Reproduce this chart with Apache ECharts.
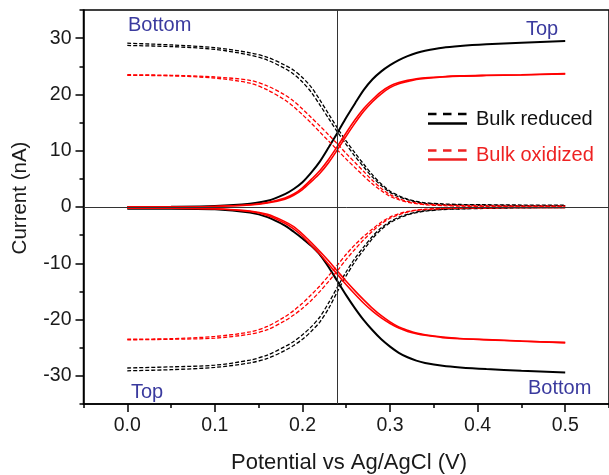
<!DOCTYPE html>
<html>
<head>
<meta charset="utf-8">
<script src="https://cdn.jsdelivr.net/npm/echarts@6/dist/echarts.min.js"></script>
<style>
  html, body { margin: 0; padding: 0; background: #fff; }
  #chart { width: 609px; height: 475px; }
</style>
</head>
<body>
<div id="chart"></div>
<script>
// Electrode potential (V vs Ag/AgCl) shared by every trace
const potential = [0, 0.05, 0.1, 0.14, 0.16, 0.18, 0.19, 0.2, 0.21, 0.22, 0.23, 0.24,
  0.25, 0.26, 0.27, 0.28, 0.29, 0.30, 0.31, 0.32, 0.33, 0.34, 0.36, 0.38, 0.41, 0.45, 0.50];

// Bulk reduced (black) currents, nA
const reducedTopUp = [0.0, 0.05, 0.2, 0.6, 1.1, 2.3, 3.2, 4.4, 6.1, 8.1, 10.6, 13.2,
  15.9, 18.4, 20.8, 22.7, 24.1, 25.2, 26.1, 26.8, 27.35, 27.75, 28.3, 28.6, 28.9, 29.2, 29.5];
const reducedBottomUpA = [29.1, 28.8, 28.3, 27.4, 26.6, 25.2, 24.3, 23.0, 21.3, 19.0, 16.5, 14.0,
  11.7, 9.6, 7.6, 5.7, 4.1, 2.8, 2.0, 1.4, 1.0, 0.75, 0.55, 0.45, 0.4, 0.35, 0.35];
const reducedBottomUpB = [28.7, 28.5, 28.0, 27.0, 26.1, 24.6, 23.6, 22.2, 20.4, 18.1, 15.7, 13.3,
  11.1, 9.0, 7.1, 5.3, 3.8, 2.6, 1.8, 1.3, 0.9, 0.65, 0.45, 0.35, 0.3, 0.25, 0.25];
const reducedBottomDown = [-0.3, -0.3, -0.4, -1.0, -1.8, -3.3, -4.4, -5.6, -6.9, -8.5, -10.7, -13.2,
  -15.7, -18.0, -20.1, -21.9, -23.5, -24.8, -25.9, -26.7, -27.3, -27.7, -28.2, -28.5, -28.8, -29.1, -29.4];
const reducedTopDownA = [-28.6, -28.4, -28.1, -27.2, -26.3, -24.8, -23.9, -22.7, -21.3, -19.5, -17.0, -14.2,
  -11.5, -9.1, -7.1, -5.2, -3.7, -2.6, -1.8, -1.3, -0.9, -0.65, -0.4, -0.3, -0.2, -0.1, -0.1];
const reducedTopDownB = [-29.1, -28.9, -28.5, -27.7, -26.9, -25.5, -24.6, -23.5, -22.1, -20.4, -18.0, -15.0,
  -12.2, -9.7, -7.6, -5.6, -4.0, -2.8, -2.0, -1.4, -1.0, -0.75, -0.45, -0.35, -0.25, -0.15, -0.1];

// Bulk oxidized (red) currents, nA
const oxidizedTopUpA = [0.0, 0.0, 0.1, 0.4, 0.8, 1.6, 2.3, 3.4, 4.9, 6.5, 8.5, 10.8,
  13.2, 15.5, 17.5, 19.1, 20.5, 21.5, 22.1, 22.5, 22.8, 22.95, 23.15, 23.3, 23.4, 23.5, 23.7];
const oxidizedTopUpB = [0.0, 0.0, 0.1, 0.35, 0.7, 1.4, 2.1, 3.1, 4.5, 6.0, 7.9, 10.2,
  12.6, 14.9, 17.0, 18.7, 20.1, 21.2, 21.9, 22.3, 22.65, 22.85, 23.1, 23.25, 23.35, 23.45, 23.65];
const oxidizedBottomUpA = [23.5, 23.4, 23.1, 22.5, 21.5, 19.9, 18.8, 17.4, 15.9, 14.4, 12.8, 11.2,
  9.5, 7.9, 6.3, 4.7, 3.3, 2.2, 1.5, 1.0, 0.7, 0.5, 0.35, 0.25, 0.2, 0.15, 0.15];
const oxidizedBottomUpB = [23.4, 23.3, 22.9, 22.0, 20.8, 19.0, 17.8, 16.4, 14.9, 13.3, 11.7, 10.1,
  8.5, 7.0, 5.5, 4.1, 2.9, 1.9, 1.3, 0.85, 0.6, 0.4, 0.25, 0.15, 0.1, 0.1, 0.1];
const oxidizedBottomDownA = [-0.2, -0.2, -0.3, -0.7, -1.3, -2.6, -3.5, -4.8, -6.3, -7.9, -9.6, -11.4,
  -13.2, -14.9, -16.5, -18.0, -19.3, -20.4, -21.3, -21.9, -22.4, -22.7, -23.1, -23.35, -23.55, -23.8, -24.1];
const oxidizedBottomDownB = [-0.2, -0.2, -0.3, -0.8, -1.5, -2.9, -3.9, -5.2, -6.8, -8.4, -10.2, -12.0,
  -13.8, -15.5, -17.1, -18.5, -19.7, -20.7, -21.5, -22.1, -22.5, -22.8, -23.2, -23.4, -23.6, -23.85, -24.1];
const oxidizedTopDownA = [-23.6, -23.5, -23.3, -22.6, -21.8, -20.2, -19.2, -18.0, -16.6, -15.0, -13.2, -11.3,
  -9.3, -7.5, -5.8, -4.3, -3.0, -2.0, -1.4, -0.9, -0.6, -0.45, -0.3, -0.22, -0.18, -0.1, -0.1];
const oxidizedTopDownB = [-23.5, -23.4, -23.0, -22.2, -21.2, -19.5, -18.4, -17.1, -15.6, -14.0, -12.2, -10.3,
  -8.4, -6.7, -5.2, -3.9, -2.7, -1.8, -1.2, -0.8, -0.55, -0.4, -0.25, -0.18, -0.15, -0.1, -0.1];

// Axis ticks and reference lines
const xMajorTicks = [0, 0.1, 0.2, 0.3, 0.4, 0.5];
const yMajorTicks = [-30, -20, -10, 0, 10, 20, 30];
const crossingPotential = 0.24;

const FONT = '"Liberation Sans", Arial, Helvetica, sans-serif';
const BLACK = '#000000';
const RED = '#ff0000';
const NAVY = '#3a3a9e';

function pairs(values) {
  return potential.map((v, i) => [v, values[i]]);
}

function curve(name, values, color, dashed) {
  return {
    name: name,
    type: 'line',
    data: pairs(values),
    smooth: 0.3,
    showSymbol: false,
    silent: true,
    lineStyle: dashed
      ? { color: color, width: 1.3, type: [4, 2] }
      : { color: color, width: color === RED ? 1.6 : 2 },
    z: color === RED ? 3 : 2
  };
}

const series = [
  curve('reduced top up', reducedTopUp, BLACK, false),
  curve('reduced bottom up A', reducedBottomUpA, BLACK, true),
  curve('reduced bottom up B', reducedBottomUpB, BLACK, true),
  curve('reduced bottom down', reducedBottomDown, BLACK, false),
  curve('reduced top down A', reducedTopDownA, BLACK, true),
  curve('reduced top down B', reducedTopDownB, BLACK, true),
  curve('oxidized top up A', oxidizedTopUpA, RED, false),
  curve('oxidized top up B', oxidizedTopUpB, RED, false),
  curve('oxidized bottom up A', oxidizedBottomUpA, RED, true),
  curve('oxidized bottom up B', oxidizedBottomUpB, RED, true),
  curve('oxidized bottom down A', oxidizedBottomDownA, RED, false),
  curve('oxidized bottom down B', oxidizedBottomDownB, RED, false),
  curve('oxidized top down A', oxidizedTopDownA, RED, true),
  curve('oxidized top down B', oxidizedTopDownB, RED, true)
];

// zero-current and crossing-potential guide lines
series[0].markLine = {
  silent: true,
  symbol: 'none',
  label: { show: false },
  lineStyle: { color: '#333333', width: 1, type: 'solid' },
  data: [{ xAxis: crossingPotential }, { yAxis: 0 }]
};

const tickLabel = { fontFamily: FONT, fontSize: 19.5, color: '#1a1a1a' };

const option = {
  animation: false,
  backgroundColor: '#ffffff',
  grid: {
    left: 83.5, top: 10, right: -6, bottom: 71,
    show: true, borderColor: '#000', borderWidth: 1.5, backgroundColor: 'transparent'
  },
  xAxis: [
    {
      type: 'value', min: -0.05, max: 0.55, interval: 0.05,
      position: 'bottom',
      axisLine: { show: true, onZero: false, lineStyle: { color: '#000', width: 1.5 } },
      axisTick: { show: true, length: 8, customValues: xMajorTicks, lineStyle: { color: '#000', width: 1.5 } },
      axisLabel: Object.assign({ margin: 12, customValues: xMajorTicks, formatter: v => v.toFixed(1) }, tickLabel),
      splitLine: { show: false }
    },
    {
      type: 'value', min: -0.05, max: 0.55, interval: 0.05,
      position: 'bottom', offset: 0,
      axisLine: { show: false, onZero: false },
      axisTick: { show: true, length: 4, lineStyle: { color: '#000', width: 1.5 } },
      axisLabel: { show: false },
      splitLine: { show: false }
    }
  ],
  yAxis: [
    {
      type: 'value', min: -35, max: 35, interval: 5,
      position: 'left',
      axisLine: { show: true, onZero: false, lineStyle: { color: '#000', width: 1.5 } },
      axisTick: { show: true, length: 8, customValues: yMajorTicks, lineStyle: { color: '#000', width: 1.5 } },
      axisLabel: Object.assign({ margin: 12, customValues: yMajorTicks, formatter: v => String(v) }, tickLabel),
      splitLine: { show: false }
    },
    {
      type: 'value', min: -35, max: 35, interval: 5,
      position: 'left', offset: 0,
      axisLine: { show: false, onZero: false },
      axisTick: { show: true, length: 4, lineStyle: { color: '#000', width: 1.5 } },
      axisLabel: { show: false },
      splitLine: { show: false }
    }
  ],
  series: series,
  graphic: [
    // axis titles
    {
      type: 'text', x: 349, y: 463,
      style: { text: 'Potential vs Ag/AgCl (V)', fontFamily: FONT, fontSize: 22, fill: '#1a1a1a', align: 'center', verticalAlign: 'middle' }
    },
    {
      type: 'text', x: 20, y: 198, rotation: Math.PI / 2,
      style: { text: 'Current (nA)', fontFamily: FONT, fontSize: 20.5, fill: '#1a1a1a', align: 'center', verticalAlign: 'middle' }
    },
    // electrode annotations
    { type: 'text', x: 128, y: 25, style: { text: 'Bottom', fontFamily: FONT, fontSize: 20, fill: NAVY, align: 'left', verticalAlign: 'middle' } },
    { type: 'text', x: 526, y: 29, style: { text: 'Top', fontFamily: FONT, fontSize: 20, fill: NAVY, align: 'left', verticalAlign: 'middle' } },
    { type: 'text', x: 131, y: 392, style: { text: 'Top', fontFamily: FONT, fontSize: 20, fill: NAVY, align: 'left', verticalAlign: 'middle' } },
    { type: 'text', x: 528, y: 388, style: { text: 'Bottom', fontFamily: FONT, fontSize: 20, fill: NAVY, align: 'left', verticalAlign: 'middle' } },
    // legend keys: dashed over solid
    { type: 'line', shape: { x1: 428, y1: 114, x2: 467, y2: 114 }, style: { stroke: BLACK, lineWidth: 2.5, lineDash: [8.5, 6.5] } },
    { type: 'line', shape: { x1: 428, y1: 123.5, x2: 467, y2: 123.5 }, style: { stroke: BLACK, lineWidth: 2.5 } },
    { type: 'text', x: 476, y: 119.5, style: { text: 'Bulk reduced', fontFamily: FONT, fontSize: 20, fill: '#111', align: 'left', verticalAlign: 'middle' } },
    { type: 'line', shape: { x1: 428, y1: 150.5, x2: 467, y2: 150.5 }, style: { stroke: '#ee2222', lineWidth: 2.5, lineDash: [8.5, 6.5] } },
    { type: 'line', shape: { x1: 428, y1: 159.5, x2: 467, y2: 159.5 }, style: { stroke: '#ee2222', lineWidth: 2.5 } },
    { type: 'text', x: 476, y: 155.5, style: { text: 'Bulk oxidized', fontFamily: FONT, fontSize: 20, fill: '#ee2222', align: 'left', verticalAlign: 'middle' } }
  ]
};

const chart = echarts.init(document.getElementById('chart'), null, { renderer: 'canvas' });
chart.setOption(option);
</script>
</body>
</html>
